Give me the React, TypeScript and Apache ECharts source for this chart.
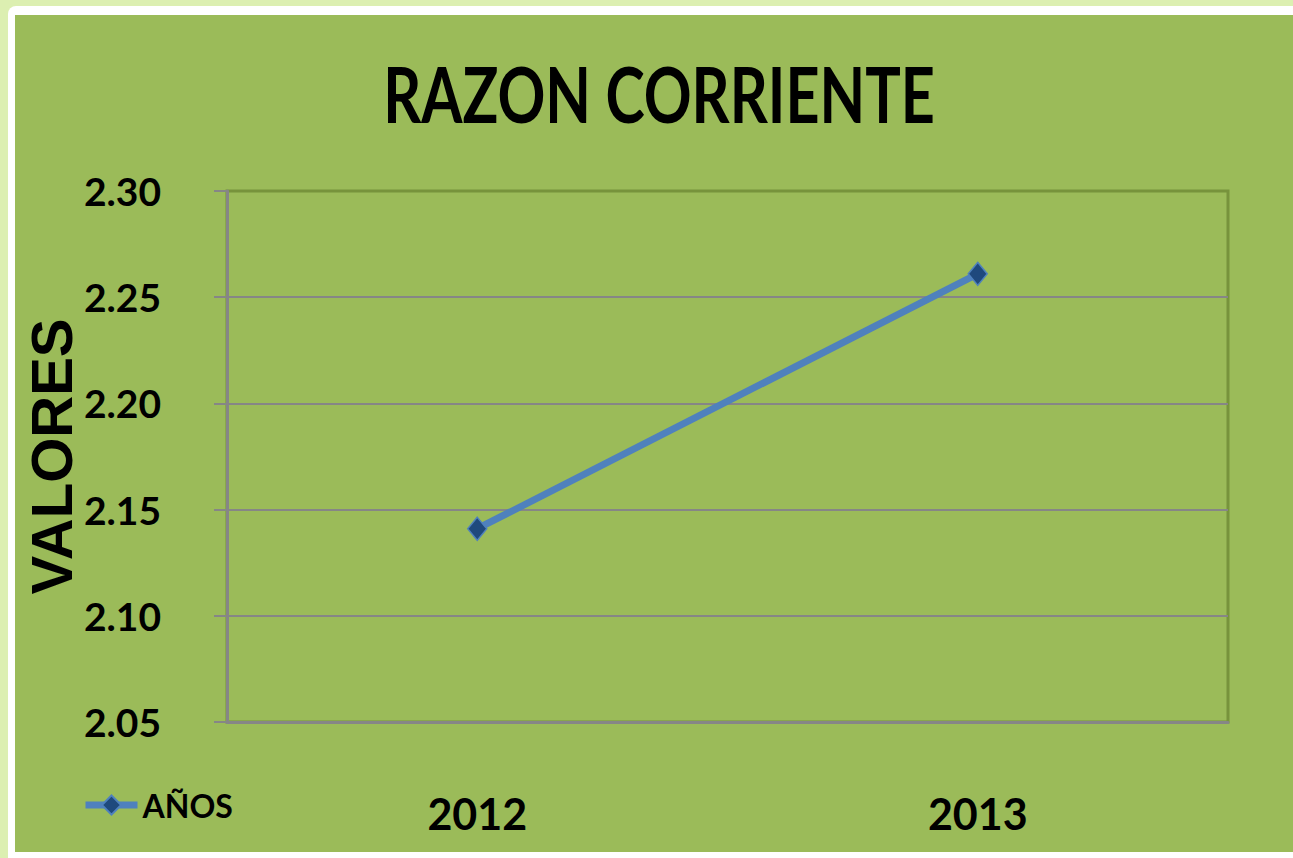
import React, { useEffect, useRef } from "react";
import * as echarts from "echarts";

const categories = ["2012", "2013"];
const seriesName = "AÑOS";
const values = [2.141, 2.261];
const yMin = 2.05;
const yMax = 2.3;
const yStep = 0.05;
const titleText = "RAZON CORRIENTE";
const yAxisName = "VALORES";

export default function App() {
  const ref = useRef<HTMLDivElement>(null);
  useEffect(() => {
    document.body.style.margin = "0";
    const chart = echarts.init(ref.current!, null, { renderer: "svg" });
    chart.setOption({
      animation: false,
      backgroundColor: "#9BBB59",
      graphic: [
        {
          type: "text",
          x: 644,
          y: 78,
          scaleX: 0.77,
          style: {
            text: titleText,
            fontFamily: "Lato",
            fontWeight: "bold",
            fontSize: 77,
            fill: "#000",
            align: "center",
            verticalAlign: "middle",
          },
        },
      ],
      grid: {
        left: 212,
        top: 176,
        right: 65,
        bottom: 130,
        containLabel: false,
        outerBoundsMode: "none",
        show: true,
        borderColor: "#77933C",
        borderWidth: 3,
        backgroundColor: "transparent",
      },
      legend: {
        left: 62,
        top: 769,
        itemWidth: 52,
        itemHeight: 24,
        itemGap: 3,
        data: [{ name: seriesName, lineStyle: { width: 7, color: "#4F81BD" } }],
        textStyle: {
          fontFamily: "Lato",
          fontWeight: "bold",
          fontSize: 32,
          color: "#000",
        },
      },
      xAxis: {
        type: "category",
        data: categories,
        boundaryGap: true,
        axisLine: { lineStyle: { color: "#868686", width: 3 } },
        axisTick: { show: false },
        axisLabel: {
          margin: 70,
          fontFamily: "Lato",
          fontWeight: "bold",
          fontSize: 43,
          color: "#000",
        },
      },
      yAxis: {
        type: "value",
        min: yMin,
        max: yMax,
        interval: yStep,
        name: yAxisName,
        nameLocation: "middle",
        nameRotate: 90,
        nameGap: 147,
        nameMoveOverlap: false,
        nameTextStyle: {
          fontFamily: "Liberation Sans",
          fontWeight: "bold",
          fontSize: 58,
          color: "#000",
        },
        axisLine: { show: true, lineStyle: { color: "#868686", width: 3 } },
        axisTick: { show: true, length: 13, lineStyle: { color: "#868686", width: 2 } },
        axisLabel: {
          margin: 66,
          fontFamily: "Lato",
          fontWeight: "bold",
          fontSize: 39,
          color: "#000",
          formatter: (v: number) => v.toFixed(2),
        },
        splitLine: {
          show: true,
          showMaxLine: false,
          showMinLine: false,
          lineStyle: { color: "#868686", width: 2 },
        },
      },
      series: [
        {
          name: seriesName,
          type: "line",
          data: values,
          symbol: "diamond",
          symbolSize: [19, 23],
          lineStyle: { color: "#4F81BD", width: 7 },
          itemStyle: { color: "#1F497D", borderColor: "#4F81BD", borderWidth: 1.5 },
        },
      ],
    });
    return () => chart.dispose();
  }, []);
  return (
    <div style={{ position: "relative", width: 1293, height: 858, background: "#DCEFB1", overflow: "hidden" }}>
      <div
        style={{
          position: "absolute",
          left: 8,
          top: 6,
          width: 1300,
          height: 860,
          background: "#FFFFFF",
          borderRadius: 8,
        }}
      />
      <div ref={ref} style={{ position: "absolute", left: 15, top: 15, width: 1278, height: 837 }} />
    </div>
  );
}
